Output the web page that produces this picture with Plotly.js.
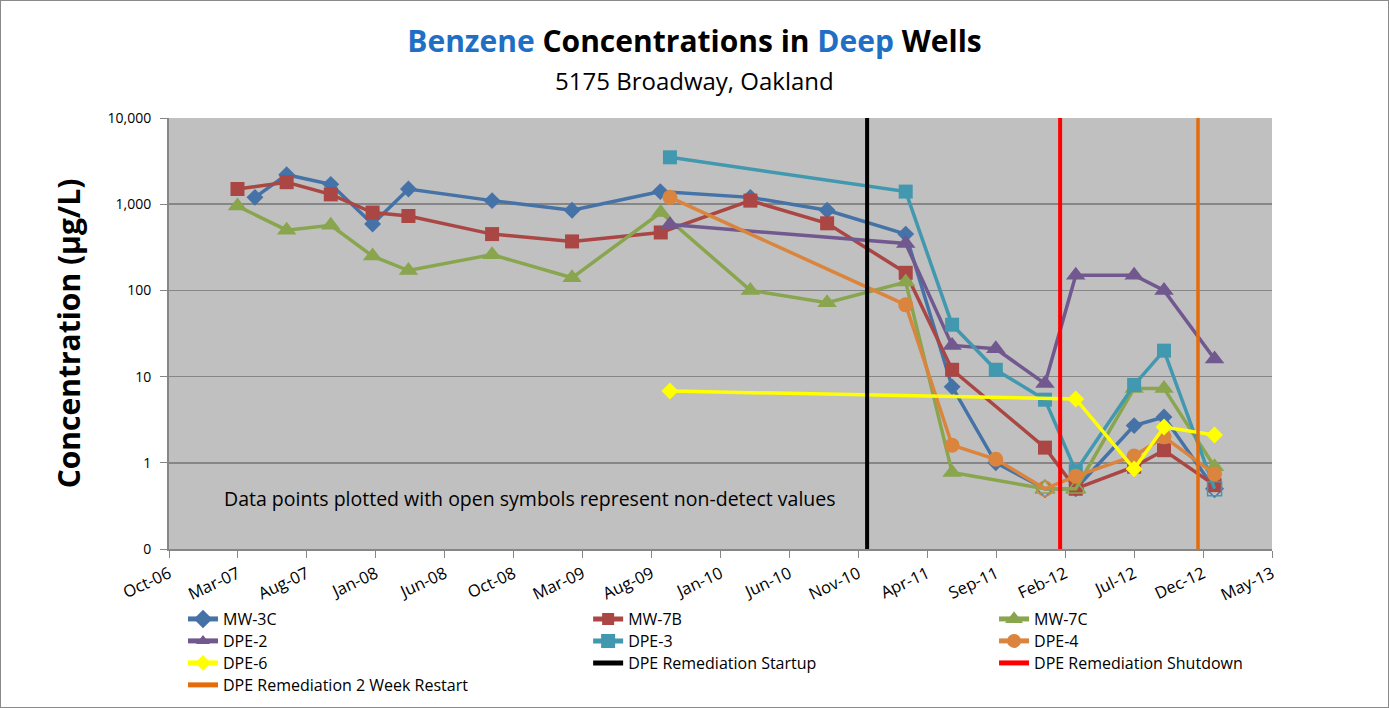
<!DOCTYPE html>
<html>
<head>
<meta charset="utf-8">
<script src="https://cdn.plot.ly/plotly-3.0.1.min.js"></script>
<style>
html,body{margin:0;padding:0;background:#fff;}
#wrap{width:1387px;height:706px;border:1px solid #8a8a8a;}
#chart{width:1387px;height:706px;}
</style>
</head>
<body>
<div id="wrap"><div id="chart"></div></div>
<script>
// ---- Data ----
const mw3cDates = ['2007-04-15','2007-06-23','2007-09-27','2007-12-27','2008-03-14','2008-09-12','2009-03-05','2009-09-13','2010-03-28','2010-09-11','2011-03-01','2011-06-10','2011-09-13','2011-12-29','2012-03-05','2012-07-10','2012-09-13','2013-01-01'];
const mw3cVals  = [1200,2200,1700,590,1500,1100,850,1400,1200,850,450,7.6,1.0,0.5,0.5,2.7,3.4,0.5];
const mw3cND    = [0,0,0,0,0,0,0,0,0,0,0,0,0,1,0,0,0,1];

const mw7bDates = ['2007-03-08','2007-06-23','2007-09-27','2007-12-27','2008-03-14','2008-09-12','2009-03-05','2009-09-14','2010-03-28','2010-09-11','2011-03-01','2011-06-10','2011-12-29','2012-03-05','2012-07-10','2012-09-13','2013-01-01'];
const mw7bVals  = [1500,1800,1300,800,730,450,370,470,1100,600,160,12,1.5,0.5,0.9,1.4,0.55];
const mw7bND    = [0,0,0,0,0,0,0,0,0,0,0,0,0,0,0,0,0];

const mw7cDates = ['2007-03-08','2007-06-23','2007-09-27','2007-12-27','2008-03-14','2008-09-12','2009-03-05','2009-09-14','2010-03-28','2010-09-11','2011-03-01','2011-06-10','2011-12-29','2012-03-05','2012-07-10','2012-09-13','2013-01-01'];
const mw7cVals  = [950,500,570,250,170,260,140,800,100,72,125,0.77,0.5,0.5,7.3,7.3,0.9];
const mw7cND    = [0,0,0,0,0,0,0,0,0,0,0,0,1,1,0,0,0];

const dpe2Dates = ['2009-10-04','2011-03-01','2011-06-10','2011-09-13','2011-12-29','2012-03-05','2012-07-10','2012-09-13','2013-01-01'];
const dpe2Vals  = [580,350,23,21,8.3,150,150,100,16];
const dpe2ND    = [0,0,0,0,0,0,0,0,0];

const dpe3Dates = ['2009-10-04','2011-03-01','2011-06-10','2011-09-13','2011-12-29','2012-03-05','2012-07-10','2012-09-13','2013-01-01'];
const dpe3Vals  = [3500,1400,40,12,5.4,0.8,8,20,0.5];
const dpe3ND    = [0,0,0,0,0,0,0,0,1];

const dpe4Dates = ['2009-10-04','2011-03-01','2011-06-10','2011-09-13','2011-12-29','2012-03-05','2012-07-10','2012-09-13','2013-01-01'];
const dpe4Vals  = [1200,68,1.6,1.1,0.5,0.7,1.2,2.0,0.74];
const dpe4ND    = [0,0,0,0,1,0,0,0,0];

const dpe6Dates = ['2009-10-04','2012-03-05','2012-07-10','2012-09-13','2013-01-01'];
const dpe6Vals  = [6.8,5.5,0.85,2.6,2.1];
const dpe6ND    = [0,0,0,0,0];

const startupDate  = '2010-12-07';
const shutdownDate = '2012-01-31';
const restartDate  = '2012-11-26';
const eventSpan    = [0.1, 10000];

const xTickVals = ['2006-10-10','2007-03-09','2007-08-06','2008-01-03','2008-06-01','2008-10-29','2009-03-28','2009-08-25','2010-01-22','2010-06-21','2010-11-18','2011-04-17','2011-09-14','2012-02-11','2012-07-10','2012-12-07','2013-05-06'];
const xTickText = ['Oct-06','Mar-07','Aug-07','Jan-08','Jun-08','Oct-08','Mar-09','Aug-09','Jan-10','Jun-10','Nov-10','Apr-11','Sep-11','Feb-12','Jul-12','Dec-12','May-13'];
const yTickVals = [0.1,1,10,100,1000,10000];
const yTickText = ['0','1','10','100','1,000','10,000'];

// ---- Traces ----
function series(name, dates, vals, nd, color, sym, size, legend){
  return {
    type:'scatter', mode:'lines+markers', name:name, x:dates, y:vals, legend:legend,
    line:{color:color, width:3.5},
    marker:{color:color, size:size, symbol: nd.map(f => f ? sym+'-open' : sym), line:{width: nd.map(f=>f?1.5:0), color:color}}
  };
}
function eventLine(name, date, color, width, legend){
  return {type:'scatter', mode:'lines', name:name, x:[date,date], y:eventSpan, legend:legend,
          line:{color:color, width:width}};
}
const traces = [
  series('MW-3C', mw3cDates, mw3cVals, mw3cND, '#4572A7', 'diamond', 13, 'legend'),
  series('MW-7B', mw7bDates, mw7bVals, mw7bND, '#AA4643', 'square', 14, 'legend2'),
  series('MW-7C', mw7cDates, mw7cVals, mw7cND, '#89A54E', 'triangle-up', 17, 'legend3'),
  series('DPE-2', dpe2Dates, dpe2Vals, dpe2ND, '#71588F', 'triangle-up', 17, 'legend4'),
  series('DPE-3', dpe3Dates, dpe3Vals, dpe3ND, '#4198AF', 'square', 14, 'legend5'),
  series('DPE-4', dpe4Dates, dpe4Vals, dpe4ND, '#DB843D', 'circle', 15, 'legend6'),
  series('DPE-6', dpe6Dates, dpe6Vals, dpe6ND, '#FFFF00', 'diamond', 13, 'legend7'),
  eventLine('DPE Remediation Startup', startupDate, '#000000', 4, 'legend8'),
  eventLine('DPE Remediation Shutdown', shutdownDate, '#FF0000', 4, 'legend9'),
  eventLine('DPE Remediation 2 Week Restart', restartDate, '#E46C0A', 3.5, 'legend10')
];

const legFont = {family:'Open Sans, sans-serif', size:16, color:'#000'};
function leg(x, y){
  return {orientation:'v', xanchor:'left', yanchor:'middle', xref:'paper', yref:'container', x:x, y:y,
          font:legFont, bgcolor:'rgba(0,0,0,0)', itemwidth:30, itemsizing:'constant'};
}
const colX = [0.0127, 0.38, 0.748];
const rowY = [0.1246, 0.0935, 0.0623, 0.0312];

const layout = {
  width:1387, height:706,
  margin:{l:168, r:116, t:117, b:158, autoexpand:false},
  paper_bgcolor:'#ffffff', plot_bgcolor:'#C0C0C0',
  font:{family:'Open Sans, sans-serif', color:'#000'},
  showlegend:true,
  title:{text:'<span style="color:#1F6FC5">Benzene</span> Concentrations in <span style="color:#1F6FC5">Deep</span> Wells',
         font:{family:'Open Sans, sans-serif', size:30, color:'#000', weight:'bold'}, x:0.5, xanchor:'center', xref:'container', y:0.943, yanchor:'middle'},
  xaxis:{type:'date', range:['2006-10-10','2013-05-06'], tickmode:'array', tickvals:xTickVals, ticktext:xTickText,
         tickangle:-25, ticks:'outside', ticklen:7, tickcolor:'#868686', showgrid:false, zeroline:false,
         showline:true, linecolor:'#868686', linewidth:2, tickfont:{family:'Open Sans, sans-serif', size:16.5, color:'#000'}},
  yaxis:{type:'log', range:[-1,4], tickmode:'array', tickvals:yTickVals, ticktext:yTickText, ticks:'outside', ticklen:7,
         tickcolor:'#868686', showgrid:true, gridcolor:'#868686', gridwidth:1.5, zeroline:false, showline:true, linecolor:'#868686', linewidth:2,
         ticklabelstandoff:6,
         tickfont:{family:'Open Sans, sans-serif', size:14, color:'#000'},
         title:{text:'Concentration (µg/L)', font:{family:'Open Sans, sans-serif', size:30, color:'#000', weight:'bold'}, standoff:18}},
  legend:   leg(colX[0], rowY[0]),
  legend2:  leg(colX[1], rowY[0]),
  legend3:  leg(colX[2], rowY[0]),
  legend4:  leg(colX[0], rowY[1]),
  legend5:  leg(colX[1], rowY[1]),
  legend6:  leg(colX[2], rowY[1]),
  legend7:  leg(colX[0], rowY[2]),
  legend8:  leg(colX[1], rowY[2]),
  legend9:  leg(colX[2], rowY[2]),
  legend10: leg(colX[0], rowY[3]),
  annotations:[
    {text:'5175 Broadway, Oakland', xref:'paper', yref:'paper', x:0.4764, y:1.0, yshift:38, xanchor:'center', yanchor:'middle', showarrow:false,
     font:{family:'Open Sans, sans-serif', size:24, color:'#000'}},
    {text:'Data points plotted with open symbols represent non-detect values', xref:'paper', yref:'paper', x:0.048, y:0.118,
     xanchor:'left', yanchor:'middle', showarrow:false, font:{family:'Open Sans, sans-serif', size:19.5, color:'#000'}}
  ]
};
Plotly.newPlot('chart', traces, layout, {displayModeBar:false, staticPlot:true});
</script>
</body>
</html>
